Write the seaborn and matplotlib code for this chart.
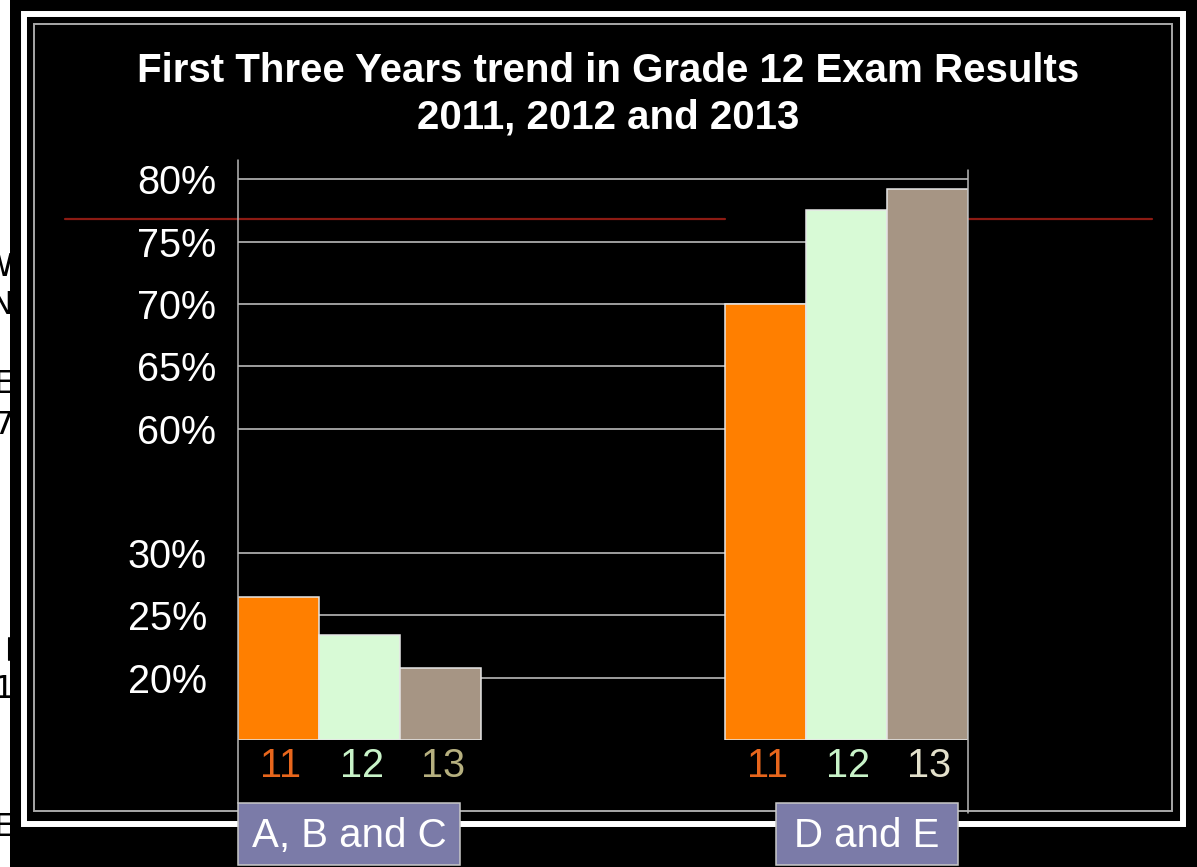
# -*- coding: utf-8 -*-
# Resultados do Grade 12 - primeiros tres anos (2011, 2012, 2013)

import numpy as np
import pandas as pd
import seaborn as sns
import matplotlib
matplotlib.use("Agg")
import matplotlib.pyplot as plt
from matplotlib.lines import Line2D
from matplotlib.patches import Rectangle

sns.set_theme(style="white")
plt.rcParams["font.family"] = ["Liberation Sans", "DejaVu Sans"]

# =============================
# DADOS
# =============================

grupos = ["A, B and C", "D and E"]
anos = ["11", "12", "13"]
valores_abc = [26.5, 23.4, 20.8]
valores_de = [70.0, 77.5, 79.2]
ticks_pct = [20, 25, 30, 60, 65, 70, 75, 80]

# eixo com "quebra" entre 30% e 60% (como no slide original)
escala_pct = [15, 20, 25, 30, 60, 65, 70, 75, 80, 85]
escala_pos = [0, 1, 2, 3, 5, 6, 7, 8, 9, 10]

cores_barras = ["#FF7F00", "#D8FAD6", "#A69584"]
cores_rotulos = ["#E8661C", "#C8F3C8", "#B6B07F", "#E8661C", "#C8F3C8", "#E3E0CB"]
titulo = "First Three Years trend in Grade 12 Exam Results\n2011, 2012 and 2013"
fragmentos = [("W", 268), ("N", 305), ("E", 385), ("7", 425), ("1", 690), ("E", 828)]

df = pd.DataFrame({
    "grupo": [grupos[0]] * 3 + [grupos[1]] * 3,
    "ano": anos * 2,
    "valor": valores_abc + valores_de,
})

# =============================
# FIGURA
# =============================

W, H = 1197, 867
fig = plt.figure(figsize=(W / 100, H / 100), dpi=100)
fig.patch.set_facecolor("white")


def fx(px):
    return px / W


def fy(py):
    return (H - py) / H


# restos de texto do slide de baixo (cortados pela borda)
for letra, ypx in fragmentos:
    fig.text(fx(14), fy(ypx), letra, ha="right", va="center", fontsize=23,
             color="black", family=["DejaVu Sans"], zorder=-3)
fig.add_artist(Line2D([fx(9), fx(9)], [fy(638), fy(660)], transform=fig.transFigure,
                      color="black", lw=1.5, zorder=-3))

fig.add_artist(Rectangle((fx(10), 0), 1 - fx(10), 1, transform=fig.transFigure,
                         facecolor="black", edgecolor="none", zorder=-2))

# moldura dupla
fig.add_artist(Rectangle((fx(24), fy(824)), fx(1183) - fx(24), fy(13.5) - fy(824),
                         transform=fig.transFigure, facecolor="none",
                         edgecolor="white", lw=4.3, zorder=1))
fig.add_artist(Rectangle((fx(34), fy(811)), fx(1172) - fx(34), fy(24.5) - fy(811),
                         transform=fig.transFigure, facecolor="none",
                         edgecolor="#A8A8A8", lw=1.4, zorder=1))

# linha vermelha
for x0, x1 in [(65, 725), (968, 1152)]:
    fig.add_artist(Line2D([fx(x0), fx(x1)], [fy(219), fy(219)], transform=fig.transFigure,
                          color="#8C1B13", lw=1.6, zorder=-1))

fig.text(fx(608), fy(94), titulo, ha="center", va="center", fontsize=29,
         fontweight="bold", color="white", linespacing=1.28)

ax = fig.add_axes([fx(238), fy(740), fx(968) - fx(238), fy(160) - fy(740)])
ax.patch.set_facecolor("none")

sns.barplot(data=df, x="grupo", y="valor", hue="ano", palette=cores_barras,
            width=0.5, saturation=1, edgecolor="#E6E6E6", linewidth=1.1,
            legend=False, ax=ax)

ax.set_yscale("function", functions=(lambda v: np.interp(v, escala_pct, escala_pos),
                                     lambda p: np.interp(p, escala_pos, escala_pct)))
ax.set_ylim(15, 81.55)
ax.set_xlim(-0.25, 1.25)
ax.set_yticks(ticks_pct, labels=[f"{t}%" for t in ticks_pct])
ax.set_xticks([])
ax.set_xlabel("")
ax.set_ylabel("")
ax.set_axisbelow(True)
ax.grid(axis="y", color="#C8C8C8", lw=1.1)
ax.grid(axis="x", visible=False)
for s in ax.spines.values():
    s.set_visible(False)
ax.tick_params(axis="y", length=0, labelsize=28.5, labelcolor="white")
for tick, val in zip(ax.yaxis.get_major_ticks(), ticks_pct):
    tick.set_pad(22.3 if val <= 30 else 15.8)

# eixos verticais (passam abaixo da base das barras)
fig.add_artist(Line2D([fx(238), fx(238)], [fy(160), fy(803)], transform=fig.transFigure,
                      color="#B8B8B8", lw=1.1, zorder=1))
fig.add_artist(Line2D([fx(968), fx(968)], [fy(170), fy(813)], transform=fig.transFigure,
                      color="#B8B8B8", lw=1.1, zorder=1))

# rotulos dos anos embaixo de cada barra
barras = sorted(ax.patches, key=lambda p: p.get_x())
for barra, rot, cor in zip(barras, anos * 2, cores_rotulos):
    ax.text(barra.get_x() + barra.get_width() / 2 + 0.004, -26 / 580, rot,
            transform=ax.get_xaxis_transform(), ha="center", va="center",
            fontsize=28.5, color=cor)

# caixas dos grupos
for nome, x0, x1 in [(grupos[0], 238, 460), (grupos[1], 776, 958)]:
    fig.add_artist(Rectangle((fx(x0), fy(865)), fx(x1) - fx(x0), fy(803) - fy(865),
                             transform=fig.transFigure, facecolor="#7B7BA8",
                             edgecolor="#C8C8C8", lw=1.1, zorder=2))
    fig.text(fx((x0 + x1) / 2), fy(836), nome, ha="center", va="center",
             fontsize=29, color="white", zorder=3)

fig.savefig("out.png", dpi=100, facecolor=fig.get_facecolor())
